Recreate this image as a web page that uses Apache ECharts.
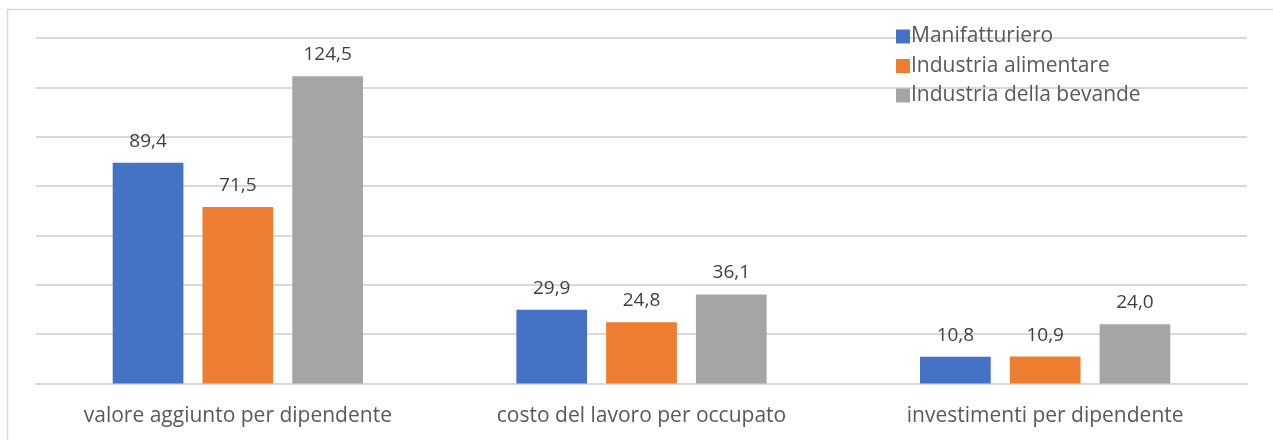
<!DOCTYPE html>
<html><head><meta charset="utf-8">
<script src="https://cdn.jsdelivr.net/npm/echarts@6/dist/echarts.min.js"></script>
<style>html,body{margin:0;padding:0;background:#fff}#c{width:1273px;height:440px}</style>
</head><body><div id="c"></div>
<script>
var categories = ['valore aggiunto per dipendente', 'costo del lavoro per occupato', 'investimenti per dipendente'];
var seriesNames = ['Manifatturiero', 'Industria alimentare', 'Industria della bevande'];
var manifatturiero = [89.4, 29.9, 10.8];
var alimentare = [71.5, 24.8, 10.9];
var bevande = [124.5, 36.1, 24.0];
var colors = ['#4472C4', '#ED7D31', '#A5A5A5'];
var allData = [manifatturiero, alimentare, bevande];

var chart = echarts.init(document.getElementById('c'));
var font = '"Open Sans", sans-serif';
chart.setOption({
  animation: false,
  graphic: [{type:'rect', shape:{x:7.5, y:9.5, width:1300, height:500}, style:{fill:'none', stroke:'#d9d9d9', lineWidth:1.5}, silent:true}],
  grid: {left:36, right:26, top:38, bottom:56.5},
  legend: {
    orient:'vertical', left:891, top:21, itemWidth:14, itemHeight:14, itemGap:8.5,
    icon:'rect',
    textStyle:{color:'#595959', fontSize:21, fontFamily:font, padding:[0,0,0,-4]},
    data: seriesNames
  },
  xAxis: {
    type:'category', data:categories,
    axisTick:{show:false},
    axisLine:{lineStyle:{color:'#d9d9d9', width:2}},
    axisLabel:{color:'#595959', fontSize:21, fontFamily:font, margin:22}
  },
  yAxis: {
    type:'value', min:0, max:140, interval:20,
    axisLabel:{show:false}, axisLine:{show:false}, axisTick:{show:false},
    splitLine:{lineStyle:{color:'#d9d9d9', width:2}}
  },
  series: allData.map(function(d,i){
    return {
      name:seriesNames[i], type:'bar', data:d,
      barGap:'27%', barCategoryGap:'38%',
      itemStyle:{color:colors[i]},
      label:{show:true, position:'top', distance:12, color:'#404040', fontSize:19, fontFamily:font,
        formatter:function(p){return p.value.toFixed(1).replace('.', ',');}}
    };
  })
});
</script></body></html>
